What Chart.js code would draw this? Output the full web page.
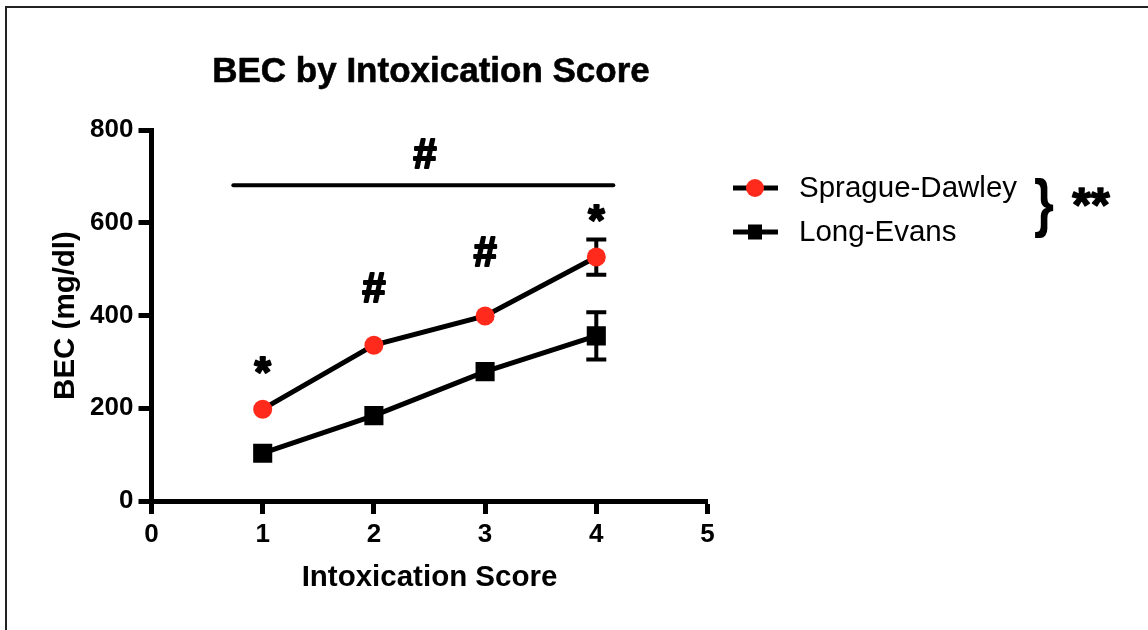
<!DOCTYPE html>
<html>
<head>
<meta charset="utf-8">
<script src="https://cdn.jsdelivr.net/npm/chart.js@4/dist/chart.umd.min.js"></script>
<style>
  html, body { margin: 0; padding: 0; background: #ffffff; }
  canvas { display: block; }
</style>
</head>
<body>
<canvas id="chart" width="1148" height="630"></canvas>
<script>
// Intoxication scores on the x axis
const scores = [1, 2, 3, 4];
// Mean BEC (mg/dl) per strain
const spragueDawley = [198, 336, 399, 526];
const longEvans = [103, 184, 279, 356];
// SEM (only the score-4 bars extend past the markers)
const spragueDawleyErr = [0, 0, 0, 38];
const longEvansErr = [0, 0, 0, 51];
// Axis ticks
const xTicks = [0, 1, 2, 3, 4, 5];
const yTicks = [0, 200, 400, 600, 800];
const seriesNames = ['Sprague-Dawley', 'Long-Evans'];
// Significance symbols: score, BEC level of the text baseline, symbol
const markScores = [1, 2, 3, 4, 2.46];
const markLevels = [247, 429, 506, 576, 718];
const markSymbols = ['*', '#', '#', '*', '#'];
// Overall bracket: from score, to score, BEC level
const overallBar = [0.736, 4.153, 681];

const FONT = '"Liberation Sans", Arial, Helvetica, sans-serif';
const RED = '#ff2a1c';
const INK = '#000000';

// heavy symbol text: fill plus a thin outline
function heavyText(ctx, s, x, y, w) {
  ctx.lineWidth = w;
  ctx.lineJoin = 'round';
  ctx.strokeText(s, x, y);
  ctx.fillText(s, x, y);
}

const decor = {
  id: 'decor',
  beforeDraw(chart) {
    const ctx = chart.ctx;
    ctx.save();
    ctx.strokeStyle = '#222';
    ctx.lineWidth = 2;
    ctx.beginPath();
    ctx.moveTo(6, 640);
    ctx.lineTo(6, 7);
    ctx.lineTo(1160, 7);
    ctx.stroke();
    ctx.restore();
  },
  beforeDatasetsDraw(chart) {
    const ctx = chart.ctx;
    const xs = chart.scales.x, ys = chart.scales.y;
    const sets = [[spragueDawley, spragueDawleyErr], [longEvans, longEvansErr]];
    ctx.save();
    ctx.strokeStyle = INK;
    ctx.lineWidth = 4;
    sets.forEach(([vals, errs]) => {
      vals.forEach((v, j) => {
        const e = errs[j];
        if (!e) return;
        const x = xs.getPixelForValue(scores[j]);
        const yt = ys.getPixelForValue(v + e);
        const yb = ys.getPixelForValue(v - e);
        ctx.beginPath();
        ctx.moveTo(x, yt); ctx.lineTo(x, yb);
        ctx.moveTo(x - 10, yt); ctx.lineTo(x + 10, yt);
        ctx.moveTo(x - 10, yb); ctx.lineTo(x + 10, yb);
        ctx.stroke();
      });
    });
    ctx.restore();
  },
  afterDatasetsDraw(chart) {
    const ctx = chart.ctx;
    const xs = chart.scales.x, ys = chart.scales.y;
    ctx.save();
    ctx.fillStyle = INK;
    ctx.strokeStyle = INK;

    // overall bracket line
    ctx.lineWidth = 4;
    ctx.lineCap = 'round';
    ctx.beginPath();
    ctx.moveTo(xs.getPixelForValue(overallBar[0]), ys.getPixelForValue(overallBar[2]));
    ctx.lineTo(xs.getPixelForValue(overallBar[1]), ys.getPixelForValue(overallBar[2]));
    ctx.stroke();
    ctx.lineCap = 'butt';

    // significance symbols
    ctx.textAlign = 'center';
    ctx.textBaseline = 'alphabetic';
    ctx.font = 'bold 42px ' + FONT;
    markSymbols.forEach((s, i) => {
      heavyText(ctx, s, xs.getPixelForValue(markScores[i]), ys.getPixelForValue(markLevels[i]), 2);
    });

    // chart title
    ctx.font = 'bold 35px ' + FONT;
    heavyText(ctx, 'BEC by Intoxication Score', 431, 82, 0.6);

    // legend
    const rows = [
      { y: 188, base: 197, name: seriesNames[0], marker: 'circle' },
      { y: 232, base: 241, name: seriesNames[1], marker: 'square' }
    ];
    rows.forEach(r => {
      ctx.lineWidth = 5;
      ctx.beginPath();
      ctx.moveTo(733, r.y); ctx.lineTo(778, r.y);
      ctx.stroke();
      if (r.marker === 'circle') {
        ctx.fillStyle = RED;
        ctx.beginPath();
        ctx.arc(755, r.y, 9, 0, Math.PI * 2);
        ctx.fill();
      } else {
        ctx.fillStyle = INK;
        ctx.fillRect(748, r.y - 7.5, 14, 15);
      }
      ctx.fillStyle = INK;
      ctx.textAlign = 'left';
      ctx.font = '29.5px ' + FONT;
      ctx.fillText(r.name, 799, r.base);
    });

    // brace grouping both strains, with strain effect
    ctx.textAlign = 'center';
    ctx.save();
    ctx.translate(1044, 225);
    ctx.scale(0.8, 1);
    ctx.font = 'bold 64px ' + FONT;
    ctx.fillText('}', 0, 0);
    ctx.restore();
    ctx.font = 'bold 48px ' + FONT;
    heavyText(ctx, '**', 1091, 221, 1.5);
    ctx.restore();
  }
};

const tickFont = { family: FONT, size: 26, weight: 'bold' };
const titleFont = { family: FONT, size: 29.5, weight: 'bold' };

new Chart(document.getElementById('chart'), {
  type: 'line',
  data: {
    datasets: [
      {
        label: seriesNames[0],
        data: scores.map((s, i) => ({ x: s, y: spragueDawley[i] })),
        borderColor: INK,
        borderWidth: 5,
        pointStyle: 'circle',
        pointRadius: 9.5,
        pointBackgroundColor: RED,
        pointBorderColor: RED,
        pointBorderWidth: 0,
        tension: 0
      },
      {
        label: seriesNames[1],
        data: scores.map((s, i) => ({ x: s, y: longEvans[i] })),
        borderColor: INK,
        borderWidth: 5,
        pointStyle: 'rect',
        pointRadius: 13.5,
        pointBackgroundColor: INK,
        pointBorderColor: INK,
        pointBorderWidth: 0,
        tension: 0
      }
    ]
  },
  options: {
    responsive: false,
    devicePixelRatio: 1,
    animation: false,
    events: [],
    layout: { padding: { left: 0, top: 130, right: 440.5, bottom: 0 } },
    plugins: { legend: { display: false }, tooltip: { enabled: false }, title: { display: false } },
    scales: {
      x: {
        type: 'linear',
        min: 0, max: 5,
        afterBuildTicks: s => { s.ticks = xTicks.map(v => ({ value: v })); },
        afterFit: s => { s.height = 129; },
        border: { display: true, color: INK, width: 5 },
        grid: { drawOnChartArea: false, drawTicks: true, tickLength: 13, tickWidth: 5, tickColor: INK, color: INK },
        ticks: { color: INK, font: tickFont, padding: 5, maxRotation: 0 },
        title: { display: true, text: 'Intoxication Score', color: INK, font: titleFont, padding: { top: 0, bottom: 34.2 } }
      },
      y: {
        type: 'linear',
        min: 0, max: 800,
        afterBuildTicks: s => { s.ticks = yTicks.map(v => ({ value: v })); },
        afterFit: s => { s.width = 151.5; },
        border: { display: true, color: INK, width: 5 },
        grid: { drawOnChartArea: false, drawTicks: true, tickLength: 13, tickWidth: 5, tickColor: INK, color: INK },
        ticks: { color: INK, font: tickFont, padding: 5 },
        title: { display: true, text: 'BEC (mg/dl)', color: INK, font: titleFont, padding: { top: 48.3, bottom: 0 } }
      }
    }
  },
  plugins: [decor]
});
</script>
</body>
</html>
